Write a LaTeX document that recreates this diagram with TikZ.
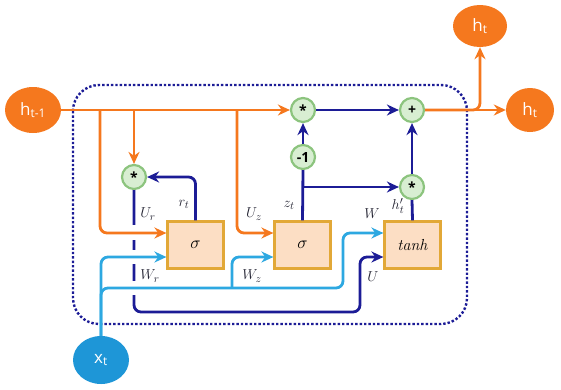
\documentclass[tikz,border=0pt]{standalone}
\usepackage{fontspec}
\newfontfamily\sansf{Open Sans}
\usetikzlibrary{arrows.meta,shapes.geometric}
\definecolor{org}{RGB}{245,120,30}
\definecolor{navy}{RGB}{28,28,150}
\definecolor{lblue}{RGB}{45,168,225}
\definecolor{xblue}{RGB}{30,150,215}
\definecolor{peach}{RGB}{252,222,196}
\definecolor{gold}{RGB}{226,168,55}
\definecolor{lgreen}{RGB}{216,238,210}
\definecolor{dgreen}{RGB}{140,196,126}
\definecolor{lbl}{RGB}{35,35,50}
\begin{document}
\begin{tikzpicture}[x=1pt,y=-1pt,
  ell/.style={ellipse, fill=org, text=white, inner sep=0pt, minimum width=56pt, minimum height=46pt, font=\sansf\fontsize{17}{17}\selectfont},
  gate/.style={draw=gold, fill=peach, line width=2.2pt, minimum width=56pt, minimum height=47pt, inner sep=0pt, font=\fontsize{19}{19}\selectfont},
  op/.style={circle, draw=dgreen, fill=lgreen, line width=2.2pt, minimum size=24pt, inner sep=0pt, font=\sansf\bfseries\fontsize{14}{14}\selectfont},
  arr/.style={-{Stealth[length=12pt,width=11pt]}, line width=2.8pt, rounded corners=7pt},
  oa/.style={arr, draw=org},
  da/.style={arr, draw=navy},
  la/.style={arr, draw=lblue},
  lab/.style={text=lbl, font=\fontsize{15.5}{15.5}\selectfont},
  gap/.style={fill=white}
]
\useasboundingbox (0,0) rectangle (561,389);

% frame
\draw[navy, dotted, line width=2.4pt, rounded corners=26pt] (73,85) rectangle (467,324);

% nodes
\node[ell] (h0) at (33,110) {h\textsubscript{t-1}};
\node[ell, minimum width=48pt, minimum height=44pt] (h1) at (530,110) {h\textsubscript{t}};
\node[ell, minimum width=54pt, minimum height=42pt] (h2) at (480,26) {h\textsubscript{t}};
\node[ell, fill=xblue, minimum width=56pt, minimum height=48pt] (x) at (101,360) {x\textsubscript{t}};

\node[gate] (r) at (195.5,245) {$\sigma$};
\node[gate] (z) at (302.5,245) {$\sigma$};
\node[gate] (t) at (412.5,245) {\textit{\fontsize{16}{16}\selectfont tanh}};

\node[op] (m1) at (134,177) {*};
\node[op] (m2) at (303,110) {*};
\node[op] (p)  at (412,110) {+};
\node[op] (n)  at (303,157) {-1};
\node[op] (m3) at (412,187) {*};

\coordinate (b1) at (100,110);
\coordinate (b2) at (134,110);
\coordinate (b3) at (237,110);
\coordinate (ro) at ([yshift=12pt]r.west);
\coordinate (rw) at ([yshift=-12pt]r.west);
\coordinate (zo) at ([yshift=12pt]z.west);
\coordinate (zw) at ([yshift=-12pt]z.west);
\coordinate (tw) at ([yshift=12pt]t.west);
\coordinate (tu) at ([yshift=-12pt]t.west);
\coordinate (c1) at (101,288);
\coordinate (c2) at (232,288);
\coordinate (c3) at (343,288);
\coordinate (d1) at (134,312);
\coordinate (d2) at (360,312);

% dark blue connectors
\draw[da] (m1.south) -- (d1) -- (d2) -- (d2 |- tu) -- (tu);
\draw[da] (r.north) |- (m1.east);
\draw[da, -] (z.north) -- (n.south);
\draw[da] (n.north) -- (m2.south);
\draw[da] (z.north |- m3) -- (m3.west);
\draw[da, -] (t.north) -- (m3.south);
\draw[da] (m3.north) -- (p.south);
\draw[da] (m2.east) -- (p.west);

% crossing gaps
\fill[gap] (130,225) rectangle (138,240);
\fill[gap] (130,250) rectangle (138,264);
\fill[gap] (130,281) rectangle (138,295);

% orange connectors
\draw[oa] (h0.east) -- (m2.west);
\draw[oa] (b1) -- (b1 |- ro) -- (ro);
\draw[oa] (b2) -- (m1.north);
\draw[oa] (b3) -- (b3 |- zo) -- (zo);
\draw[oa] (p.east) -- (h1.west);
\draw[oa] (p.east) -- (h2.south |- p.east) -- (h2.south);

% light blue connectors
\draw[la] (x.north) -- (x.north |- rw) -- (rw);
\draw[la] (x.north) -- (c1) -- (c3) -- (c3 |- tw) -- (tw);
\draw[la] (c2) -- (c2 |- zw) -- (zw);

% labels
\node[lab] at (148,214) {$U_r$};
\node[lab] at (184,204) {$r_t$};
\node[lab] at (150,276) {$W_r$};
\node[lab] at (254,214) {$U_z$};
\node[lab] at (289,205) {$z_t$};
\node[lab] at (252,276) {$W_z$};
\node[lab] at (372,214) {$W$};
\node[lab] at (398,206) {$h'_t$};
\node[lab] at (373,277) {$U$};
\end{tikzpicture}
\end{document}
